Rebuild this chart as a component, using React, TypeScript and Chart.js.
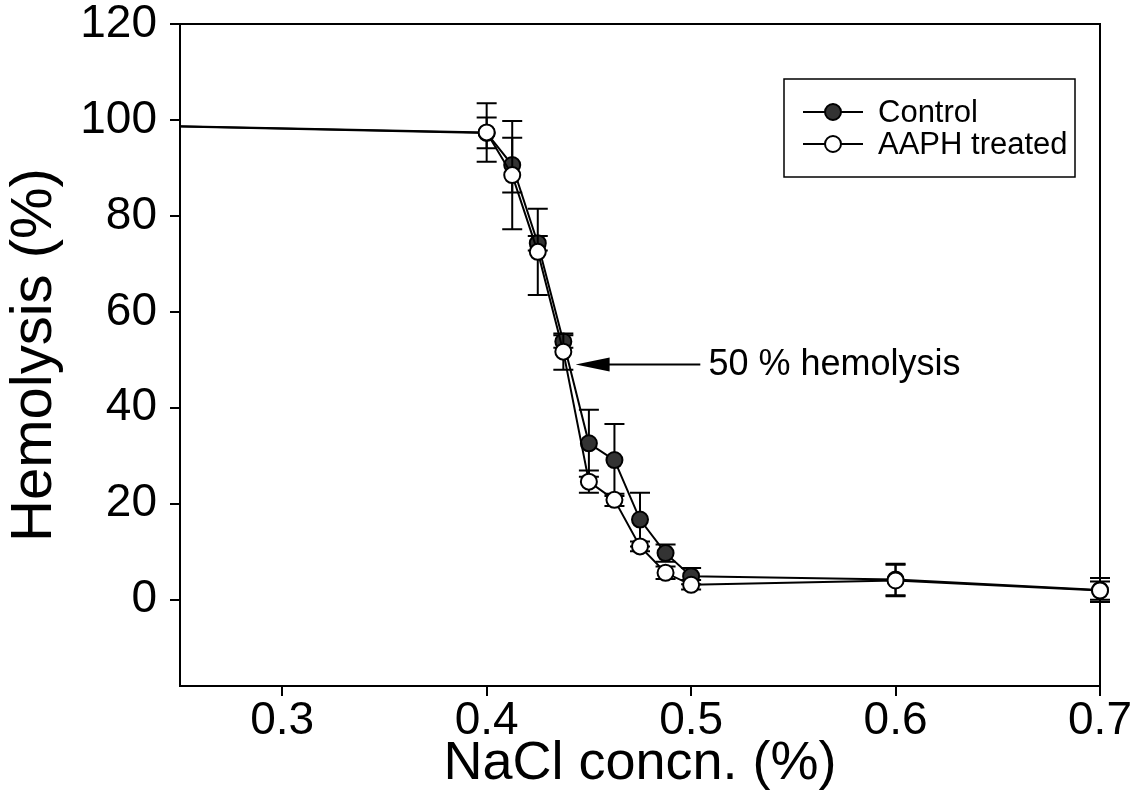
import React, { useEffect, useRef } from "react";
import { Chart, registerables } from "chart.js";

Chart.register(...registerables);

// NaCl concentration (%) — the first point lies off the left edge of the axis
const nacl = [0.1, 0.4, 0.4125, 0.425, 0.4375, 0.45, 0.4625, 0.475, 0.4875, 0.5, 0.6, 0.7];
const controlValues = [100, 97.3, 90.6, 74.3, 53.8, 32.6, 29.1, 16.7, 9.7, 4.9, 4.2, 2.0];
const controlErrors = [0, 3.2, 5.7, 1.5, 1.3, 7.0, 7.5, 5.6, 1.8, 1.7, 3.3, 2.5];
const aaphValues = [100, 97.4, 88.5, 72.5, 51.7, 24.6, 20.8, 11.1, 5.6, 3.1, 4.0, 1.9];
const aaphErrors = [0, 6.1, 11.3, 9.0, 3.8, 2.3, 1.3, 1.0, 1.3, 1.0, 3.3, 1.9];

const xTicks = [0.3, 0.4, 0.5, 0.6, 0.7];
const yTicks = [0, 20, 40, 60, 80, 100, 120];
const seriesLabels = ["Control", "AAPH treated"];

const annotationText = "50 % hemolysis";
const arrowTip = { x: 0.4435, y: 49 };
const arrowTailX = 0.5045;
const annotationTextX = 0.5085;

const FONT = '"Liberation Sans", Arial, Helvetica, sans-serif';
const FILLED = "#333333";

const errorBarPlugin = {
  id: "errorBars",
  beforeDatasetDraw(chart: any, args: any) {
    const ds = chart.data.datasets[args.index];
    const errs: number[] | undefined = ds.errors;
    if (!errs) return;
    const xs = chart.scales.x;
    const ys = chart.scales.y;
    const ctx = chart.ctx;
    const a = chart.chartArea;
    ctx.save();
    ctx.beginPath();
    ctx.rect(a.left, a.top - 20, a.right - a.left + 20, a.bottom - a.top + 40);
    ctx.clip();
    ctx.strokeStyle = "#000";
    ctx.lineWidth = 2;
    ds.data.forEach((p: any, i: number) => {
      const e = errs[i];
      if (!e) return;
      const px = xs.getPixelForValue(p.x);
      const pt = ys.getPixelForValue(p.y + e);
      const pb = ys.getPixelForValue(p.y - e);
      ctx.beginPath();
      ctx.moveTo(px, pt);
      ctx.lineTo(px, pb);
      ctx.moveTo(px - 10, pt);
      ctx.lineTo(px + 10, pt);
      ctx.moveTo(px - 10, pb);
      ctx.lineTo(px + 10, pb);
      ctx.stroke();
    });
    ctx.restore();
  },
};

const framePlugin = {
  id: "frameAndExtras",
  beforeDatasetsDraw(chart: any) {
    const ctx = chart.ctx;
    const a = chart.chartArea;
    ctx.save();
    ctx.strokeStyle = "#000";
    ctx.lineWidth = 2;
    ctx.strokeRect(a.left, a.top, a.right - a.left, a.bottom - a.top);
    ctx.restore();
  },
  afterDatasetsDraw(chart: any) {
    const ctx = chart.ctx;
    const a = chart.chartArea;
    const xs = chart.scales.x;
    const ys = chart.scales.y;
    ctx.save();
    ctx.strokeStyle = "#000";
    ctx.lineWidth = 2;

    // arrow annotation
    const tipX = xs.getPixelForValue(arrowTip.x);
    const tipY = ys.getPixelForValue(arrowTip.y);
    const tailX = xs.getPixelForValue(arrowTailX);
    ctx.beginPath();
    ctx.moveTo(tailX, tipY);
    ctx.lineTo(tipX + 30, tipY);
    ctx.stroke();
    ctx.fillStyle = "#000";
    ctx.beginPath();
    ctx.moveTo(tipX, tipY);
    ctx.lineTo(tipX + 34, tipY - 7);
    ctx.lineTo(tipX + 34, tipY + 7);
    ctx.closePath();
    ctx.fill();
    ctx.font = `36px ${FONT}`;
    ctx.textBaseline = "middle";
    ctx.textAlign = "left";
    ctx.fillText(annotationText, xs.getPixelForValue(annotationTextX), tipY);

    // legend
    const lx = a.right - 316;
    const ly = a.top + 55;
    const lw = 291;
    const lh = 98;
    ctx.lineWidth = 1.5;
    ctx.strokeRect(lx, ly, lw, lh);
    const rows = [ly + 33, ly + 65];
    ctx.font = `31px ${FONT}`;
    rows.forEach((ry, i) => {
      ctx.lineWidth = 2;
      ctx.strokeStyle = "#000";
      ctx.beginPath();
      ctx.moveTo(lx + 19, ry);
      ctx.lineTo(lx + 79, ry);
      ctx.stroke();
      ctx.beginPath();
      ctx.arc(lx + 49, ry, 8, 0, Math.PI * 2);
      ctx.fillStyle = i === 0 ? FILLED : "#fff";
      ctx.fill();
      ctx.stroke();
      ctx.fillStyle = "#000";
      ctx.fillText(seriesLabels[i], lx + 94, ry + 1);
    });
    ctx.restore();
  },
};

export default function App() {
  const ref = useRef<HTMLCanvasElement | null>(null);

  useEffect(() => {
    if (!ref.current) return;
    const mk = (vals: number[]) => nacl.map((x, i) => ({ x, y: vals[i] }));
    const radii = nacl.map((x) => (x < 0.25 ? 0 : 8));
    const clip = { left: 0, top: 20, right: 20, bottom: 20 };
    const chart = new Chart(ref.current, {
      type: "line",
      data: {
        datasets: [
          {
            label: seriesLabels[0],
            data: mk(controlValues),
            errors: controlErrors,
            borderColor: "#000",
            borderWidth: 2,
            pointBackgroundColor: FILLED,
            pointBorderColor: "#000",
            pointBorderWidth: 2,
            pointRadius: radii,
            tension: 0,
            order: 2,
            clip,
          } as any,
          {
            label: seriesLabels[1],
            data: mk(aaphValues),
            errors: aaphErrors,
            borderColor: "#000",
            borderWidth: 2,
            pointBackgroundColor: "#fff",
            pointBorderColor: "#000",
            pointBorderWidth: 2,
            pointRadius: radii,
            tension: 0,
            order: 1,
            clip,
          } as any,
        ],
      },
      options: {
        responsive: false,
        animation: false,
        events: [],
        layout: { padding: { top: 24, right: 43, left: 0, bottom: 0 } },
        plugins: { legend: { display: false }, tooltip: { enabled: false } },
        scales: {
          x: {
            type: "linear",
            min: 0.25,
            max: 0.7,
            afterBuildTicks: (s: any) => {
              s.ticks = xTicks.map((v) => ({ value: v }));
            },
            afterFit: (s: any) => {
              s.height = 121;
              s.paddingLeft = 0;
              s.paddingRight = 0;
            },
            grid: { drawOnChartArea: false, drawTicks: true, tickLength: 10, color: "#000", lineWidth: 2 },
            border: { display: false },
            ticks: {
              color: "#000",
              font: { family: FONT, size: 46 },
              padding: -2,
              maxRotation: 0,
              callback: (v: any) => Number(v).toFixed(1),
            },
            title: {
              display: true,
              text: "NaCl concn. (%)",
              color: "#000",
              font: { family: FONT, size: 54 },
              padding: { top: 0, bottom: 10 },
            },
          },
          y: {
            type: "linear",
            min: -18,
            max: 120,
            afterBuildTicks: (s: any) => {
              s.ticks = yTicks.map((v) => ({ value: v }));
            },
            afterFit: (s: any) => {
              s.width = 180;
              s.paddingTop = 0;
              s.paddingBottom = 0;
            },
            grid: { drawOnChartArea: false, drawTicks: true, tickLength: 10, color: "#000", lineWidth: 2 },
            border: { display: false },
            ticks: {
              color: "#000",
              font: { family: FONT, size: 46 },
              padding: 13,
              callback: (v: any) => String(v),
            },
            title: {
              display: true,
              text: "Hemolysis (%)",
              color: "#000",
              font: { family: FONT, size: 58 },
              padding: { top: 0, bottom: 0 },
            },
          },
        },
      },
      plugins: [errorBarPlugin, framePlugin],
    });
    return () => chart.destroy();
  }, []);

  return (
    <div style={{ position: "absolute", left: 0, top: 0, width: 1143, height: 807, background: "#fff" }}>
      <canvas ref={ref} width={1143} height={807} />
    </div>
  );
}
